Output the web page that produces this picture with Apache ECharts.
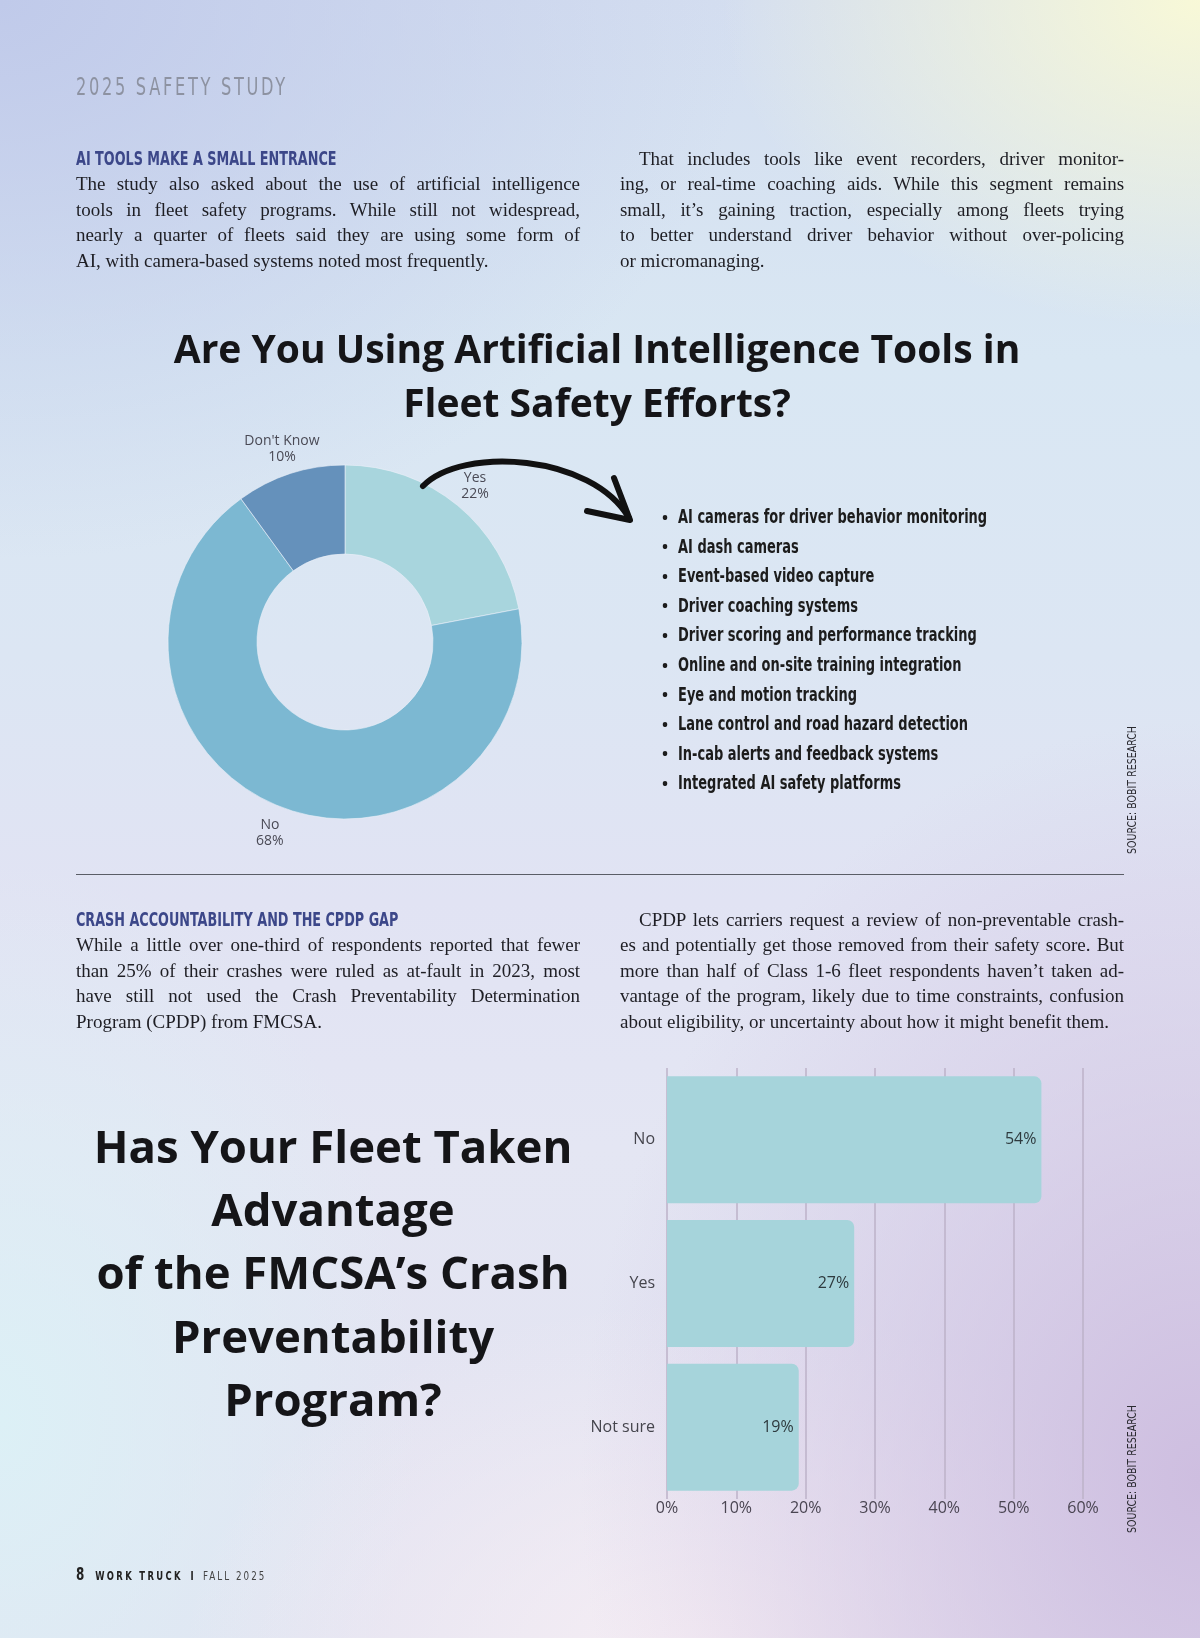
<!DOCTYPE html>
<html><head><meta charset="utf-8">
<script src="https://cdn.jsdelivr.net/npm/echarts@6/dist/echarts.min.js"></script>
<style>
html,body{margin:0;padding:0;}
body{width:1200px;height:1638px;position:relative;overflow:hidden;
background:
 radial-gradient(ellipse 480px 330px at 1200px 0px, rgba(250,250,214,0.95), rgba(250,250,214,0) 100%),
 radial-gradient(ellipse 750px 560px at 0px 0px, rgba(192,202,234,1), rgba(192,202,234,0) 100%),
 radial-gradient(ellipse 620px 760px at 1200px 1480px, rgba(206,190,224,1), rgba(206,190,224,0) 100%),
 radial-gradient(ellipse 520px 360px at 700px 1660px, rgba(246,238,244,1), rgba(246,238,244,0) 100%),
 radial-gradient(ellipse 420px 560px at 0px 1420px, rgba(220,240,246,1), rgba(220,240,246,0) 100%),
 linear-gradient(180deg, #d4def0 0%, #d9e7f3 22%, #dce6f3 40%, #e1e3f3 55%, #e4e6f3 70%, #e2e2f1 100%);
}
#chart{position:absolute;left:0;top:0;width:1200px;height:1638px;}
.abs{position:absolute;}
.kicker{left:76px;top:73px;font-family:"Liberation Sans Narrow","DejaVu Sans Condensed",sans-serif;font-size:24px;letter-spacing:3.6px;color:#8d92a1;line-height:28px;white-space:nowrap;transform:scaleX(0.75);transform-origin:0 0;}
.col{position:absolute;width:504px;font-family:"Liberation Serif","DejaVu Serif",serif;font-size:19px;color:#1e1e24;}
.ln{height:25.4px;line-height:25.4px;white-space:nowrap;text-align:justify;text-align-last:justify;}
.ln.last{text-align:left;text-align-last:left;}
.ln.ind{text-indent:19px;}
.hd{height:25.4px;line-height:25.4px;white-space:nowrap;font-family:"Liberation Sans Narrow","DejaVu Sans Condensed",sans-serif;font-weight:bold;font-size:20px;color:#3c4789;transform:scaleX(0.71);transform-origin:0 0;}
.divider{left:76px;top:874px;width:1048px;height:1px;background:#5a5d66;}
.footer{left:76px;top:1564px;height:20px;line-height:20px;white-space:nowrap;font-family:"Liberation Sans Narrow","DejaVu Sans Condensed",sans-serif;color:#222;transform:scaleX(0.78);transform-origin:0 0;}
.footer b.pg{font-size:17px;margin-right:14px;}
.footer .wt{font-weight:bold;font-size:12px;letter-spacing:3px;}
.footer .sep{font-weight:bold;font-size:12px;margin:0 12px 0 10px;}
.footer .fl{font-size:12.5px;letter-spacing:2.6px;color:#444;}
</style></head><body>
<div id="chart"></div>
<div class="abs kicker">2025 SAFETY STUDY</div>

<div class="col" style="left:76px;top:146px;">
  <div class="hd">AI TOOLS MAKE A SMALL ENTRANCE</div>
  <div class="ln">The study also asked about the use of artificial intelligence</div>
  <div class="ln">tools in fleet safety programs. While still not widespread,</div>
  <div class="ln">nearly a quarter of fleets said they are using some form of</div>
  <div class="ln last">AI, with camera-based systems noted most frequently.</div>
</div>
<div class="col" style="left:620px;top:146px;">
  <div class="ln ind">That includes tools like event recorders, driver monitor-</div>
  <div class="ln">ing, or real-time coaching aids. While this segment remains</div>
  <div class="ln">small, it’s gaining traction, especially among fleets trying</div>
  <div class="ln">to better understand driver behavior without over-policing</div>
  <div class="ln last">or micromanaging.</div>
</div>

<div class="abs divider"></div>

<div class="col" style="left:76px;top:907px;">
  <div class="hd">CRASH ACCOUNTABILITY AND THE CPDP GAP</div>
  <div class="ln">While a little over one-third of respondents reported that fewer</div>
  <div class="ln">than 25% of their crashes were ruled as at-fault in 2023, most</div>
  <div class="ln">have still not used the Crash Preventability Determination</div>
  <div class="ln last">Program (CPDP) from FMCSA.</div>
</div>
<div class="col" style="left:620px;top:907px;">
  <div class="ln ind">CPDP lets carriers request a review of non-preventable crash-</div>
  <div class="ln">es and potentially get those removed from their safety score. But</div>
  <div class="ln">more than half of Class 1-6 fleet respondents haven’t taken ad-</div>
  <div class="ln">vantage of the program, likely due to time constraints, confusion</div>
  <div class="ln last">about eligibility, or uncertainty about how it might benefit them.</div>
</div>

<div class="abs footer"><b class="pg">8</b><span class="wt">WORK TRUCK</span><span class="sep">I</span><span class="fl">FALL 2025</span></div>

<script>
// ---- data ----
const pieCategories = ['Yes', 'No', "Don't Know"];
const pieValues = [22, 68, 10];
const aiTools = [
  'AI cameras for driver behavior monitoring',
  'AI dash cameras',
  'Event-based video capture',
  'Driver coaching systems',
  'Driver scoring and performance tracking',
  'Online and on-site training integration',
  'Eye and motion tracking',
  'Lane control and road hazard detection',
  'In-cab alerts and feedback systems',
  'Integrated AI safety platforms'
];
const barCategories = ['No', 'Yes', 'Not sure'];
const barValues = [54, 27, 19];
const xAxisMin = 0, xAxisMax = 60, xAxisStep = 10;
const pieTitle = 'Are You Using Artificial Intelligence Tools in\nFleet Safety Efforts?';
const barTitle = 'Has Your Fleet Taken\nAdvantage\nof the FMCSA’s Crash\nPreventability\nProgram?';
const sourceText = 'SOURCE: BOBIT RESEARCH';

// ---- justify text lines ----
document.querySelectorAll('.col').forEach(col => {
  const W = col.clientWidth;
  col.querySelectorAll('.ln').forEach(ln => {
    const txt = ln.textContent;
    const s = document.createElement('span');
    s.textContent = txt;
    ln.textContent = '';
    ln.appendChild(s);
    const w = s.getBoundingClientRect().width;
    const ind = ln.classList.contains('ind') ? 19 : 0;
    if (w + ind > W - 1) {
      s.style.letterSpacing = ((W - 2 - ind - w) / txt.length) + 'px';
    }
  });
});

const chart = echarts.init(document.getElementById('chart'), null, {renderer: 'canvas'});
const sans = '"Open Sans", "Noto Sans", sans-serif';
const narrow = '"Liberation Sans Narrow", "DejaVu Sans Condensed", sans-serif';
const pieColors = ['#a8d5dd', '#7cb8d2', '#6591bb'];

const graphics = [];
graphics.push({type:'text', x:597, y:325, z:10, style:{text:pieTitle, fontFamily:sans, fontSize:39, fontWeight:'bold', fill:'#151518', lineHeight:54, align:'center', textAlign:'center', verticalAlign:'top', textVerticalAlign:'top'}});
graphics.push({type:'text', x:333, y:1118, z:10, style:{text:barTitle, fontFamily:sans, fontSize:45.5, fontWeight:'bold', fill:'#151518', lineHeight:63.4, align:'center', textAlign:'center', verticalAlign:'top', textVerticalAlign:'top'}});
aiTools.forEach((t, i) => {
  const y = 518 + i * 29.6;
  graphics.push({type:'text', x:665, y:y, z:10, style:{text:'•', fontFamily:sans, fontSize:16, fontWeight:'bold', fill:'#1c1c1c', align:'center', textAlign:'center', verticalAlign:'middle', textVerticalAlign:'middle'}});
  graphics.push({type:'text', x:678, y:y, scaleX:0.76, z:10, style:{text:t, fontFamily:narrow, fontSize:19, fontWeight:'bold', fill:'#1c1c1c', align:'left', textAlign:'left', verticalAlign:'middle', textVerticalAlign:'middle'}});
});
graphics.push({type:'bezierCurve', z:10, shape:{x1:423, y1:486, cpx1:462, cpy1:446, cpx2:592, cpy2:454, x2:629, y2:518}, style:{stroke:'#111', lineWidth:6, fill:null, lineCap:'round'}});
graphics.push({type:'polyline', z:10, shape:{points:[[614,478],[630,520],[587,511]]}, style:{stroke:'#111', lineWidth:6, fill:null, lineCap:'round', lineJoin:'round'}});
[790, 1469].forEach(cy => {
  graphics.push({type:'text', x:1133, y:cy, rotation:Math.PI/2, scaleX:0.81, z:10, style:{text:sourceText, fontFamily:narrow, fontSize:13, fill:'#2a2a30', align:'center', textAlign:'center', verticalAlign:'middle', textVerticalAlign:'middle'}});
});

const pieData = pieCategories.map((n, i) => ({name:n, value:pieValues[i], itemStyle:{color:pieColors[i]}}));
const pieLabelData = pieCategories.map((n, i) => ({name:n, value:pieValues[i]}));

chart.setOption({
  backgroundColor: 'transparent',
  animation: false,
  graphic: graphics,
  grid: {left:667, right:117, top:1068, height:431, containLabel:false},
  xAxis: {
    type:'value', min:xAxisMin, max:xAxisMax, interval:xAxisStep,
    axisLine:{show:false}, axisTick:{show:false},
    splitLine:{show:true, lineStyle:{color:'#bcb2c8', width:1.5}},
    axisLabel:{formatter:'{value}%', fontFamily:sans, fontSize:16, color:'#4a4552', margin:1}
  },
  yAxis: {
    type:'category', data:barCategories, inverse:true,
    axisLine:{show:false}, axisTick:{show:false}, splitLine:{show:false},
    axisLabel:{fontFamily:sans, fontSize:16, color:'#45454d', margin:12}
  },
  series: [
    {
      type:'pie', center:[345, 642], radius:[88, 177], startAngle:90, clockwise:true,
      silent:true, data:pieData, label:{show:false}, labelLine:{show:false},
      itemStyle:{borderColor:'rgba(235,240,248,0.6)', borderWidth:1}
    },
    {
      type:'pie', center:[345, 643], radius:[191, 211], startAngle:90, clockwise:true,
      silent:true, data:pieLabelData,
      itemStyle:{color:'rgba(0,0,0,0)'},
      label:{show:true, position:'inside', rotate:0, formatter:'{b}\n{c}%', fontFamily:sans, fontSize:14, lineHeight:16, color:'#4a4a55'},
      labelLine:{show:false}
    },
    {
      type:'bar', data:barValues, barWidth:127,
      itemStyle:{color:'#a6d4db', borderRadius:[0,7,7,0]},
      label:{show:true, position:'insideRight', distance:5, formatter:'{c}%', fontFamily:sans, fontSize:16, color:'#2e3a3e'}
    }
  ]
});
</script>
</body></html>
